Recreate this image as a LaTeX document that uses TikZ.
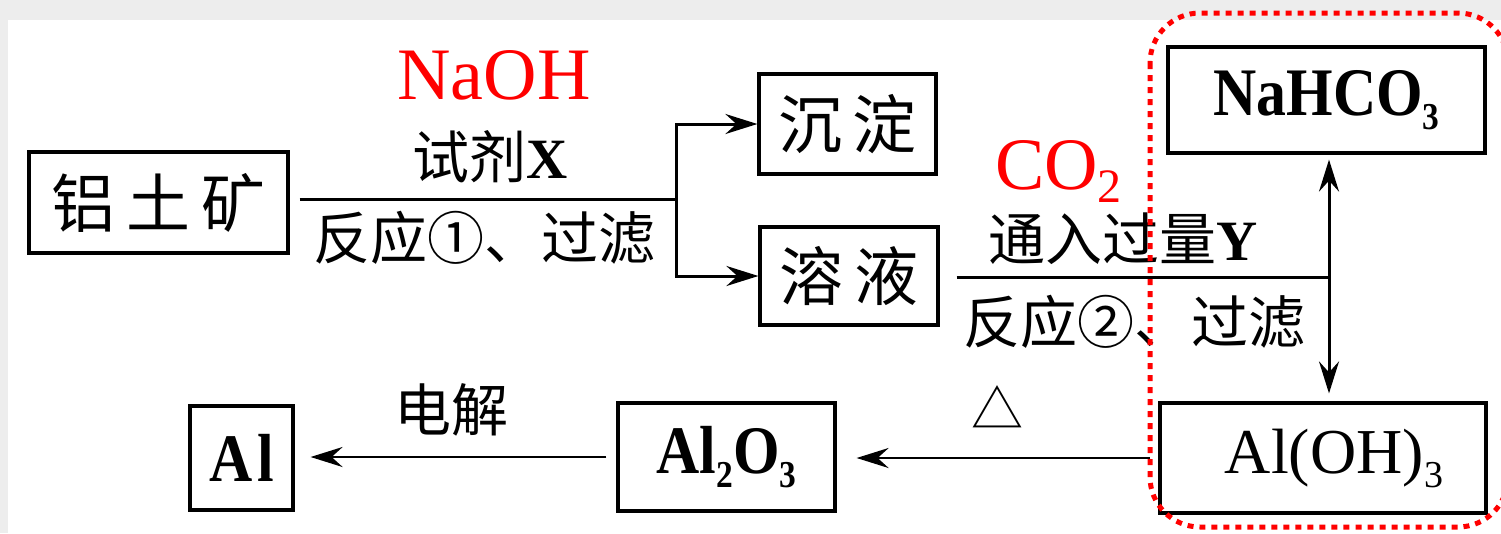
\documentclass[tikz,border=0pt]{standalone}
\usepackage{fontspec}
\setmainfont{Liberation Serif}
\newfontfamily\cjk{Noto Sans CJK SC}
\newfontfamily\tnrc[FakeStretch=0.88]{Liberation Serif}
\usetikzlibrary{arrows.meta}
\definecolor{bggray}{RGB}{237,237,237}
\begin{document}
\begin{tikzpicture}[x=1pt,y=-1pt,
  box/.style={draw, line width=3.2pt, inner sep=0pt},
  arr/.style={line width=3pt, -{Stealth[length=32pt,width=20pt,inset=11pt]}},
  arrtwo/.style={line width=3pt, {Stealth[length=32pt,width=20pt,inset=11pt]}-{Stealth[length=32pt,width=20pt,inset=11pt]}},
  lbl/.style={inner sep=0pt, font=\cjk\fontsize{57}{60}\selectfont},
  boxcjk/.style={font=\cjk\fontsize{64}{70}\selectfont},
  chem/.style={font=\tnrc\bfseries\fontsize{68}{70}\selectfont},
  redlbl/.style={inner sep=0pt, text=red}]
\useasboundingbox (0,0) rectangle (1501,533);
\fill[bggray] (0,0) rectangle (1501,533);
\fill[white] (8,20) rectangle (1501,533);

% boxes
\node[box, boxcjk, minimum width=259pt, minimum height=101pt] (ore) at (158.5,202.5) {铝\hspace{11pt}土\hspace{11pt}矿};
\node[box, boxcjk, minimum width=177pt, minimum height=100pt] (chen) at (847.5,124) {沉\hspace{11pt}淀};
\node[box, boxcjk, minimum width=178pt, minimum height=98pt] (rong) at (849,276) {溶\hspace{11pt}液};
\node[box, chem, minimum width=317pt, minimum height=106pt] (nahco) at (1326.5,100) {NaHCO\raisebox{-14pt}{\fontsize{38}{40}\selectfont 3}};
\node[box, font=\fontsize{64}{66}\selectfont, minimum width=326pt, minimum height=110pt] (aloh) at (1323,458) {\hspace{22pt}Al(OH)\raisebox{-14pt}{\fontsize{38}{40}\selectfont 3}};
\node[box, chem, minimum width=217pt, minimum height=108pt] (alo) at (726.5,457) {Al\raisebox{-14pt}{\fontsize{38}{40}\selectfont 2}O\raisebox{-14pt}{\fontsize{38}{40}\selectfont 3}};
\node[box, chem, minimum width=103pt, minimum height=104pt] (al) at (241.5,458) {A\kern5pt l};

% connectors
\coordinate (j1) at (676,199);
\coordinate (j2) at (1329,277);
\draw[line width=3pt, shorten <=10pt] (ore.east |- j1) -- (j1);
\draw[arr] (j1) |- (chen.west);
\draw[arr] (j1) |- (rong.west);
\draw[line width=3pt, shorten <=17pt] (rong.east |- j2) -- (j2);
\draw[arrtwo, shorten <=5pt, shorten >=8pt] (nahco.south -| j2) -- (aloh.north -| j2);
\draw[arr, line width=2.6pt, shorten <=8pt, shorten >=20pt] (aloh.west) -- (alo.east |- aloh.west);
\draw[arr, line width=2.6pt, shorten <=10pt, shorten >=16pt] (alo.west) -- (al.east |- alo.west);

% labels
\node[lbl] (tx) at (490.5,157) {试剂{\rmfamily\bfseries X}};
\node[lbl] (r1) at (484,238) {反应①、过滤};
\node[lbl] (ty) at (1123.5,238.5) {通入过量{\rmfamily\bfseries Y}};
\node[lbl] (r2) at (1134.5,321.5) {反应②、过滤};
\node[lbl] (dj) at (451,410) {电解};
\node[lbl, font=\cjk\fontsize{52}{56}\selectfont] (heat) at (997.5,407) {△};
\node[redlbl, font=\fontsize{74}{76}\selectfont] (naoh) at (494,75) {NaOH};
\node[redlbl, font=\fontsize{74}{76}\selectfont] (co2) at (1058.5,171) {CO\raisebox{-13pt}{\fontsize{48}{50}\selectfont 2}};

% red dotted outline
\begin{scope}
\clip (0,0) rectangle (1501,533);
\draw[red, line width=5pt, dash pattern=on 6pt off 6pt, rounded corners=50pt] (1150,13) rectangle (1508,527);
\end{scope}
\end{tikzpicture}
\end{document}
